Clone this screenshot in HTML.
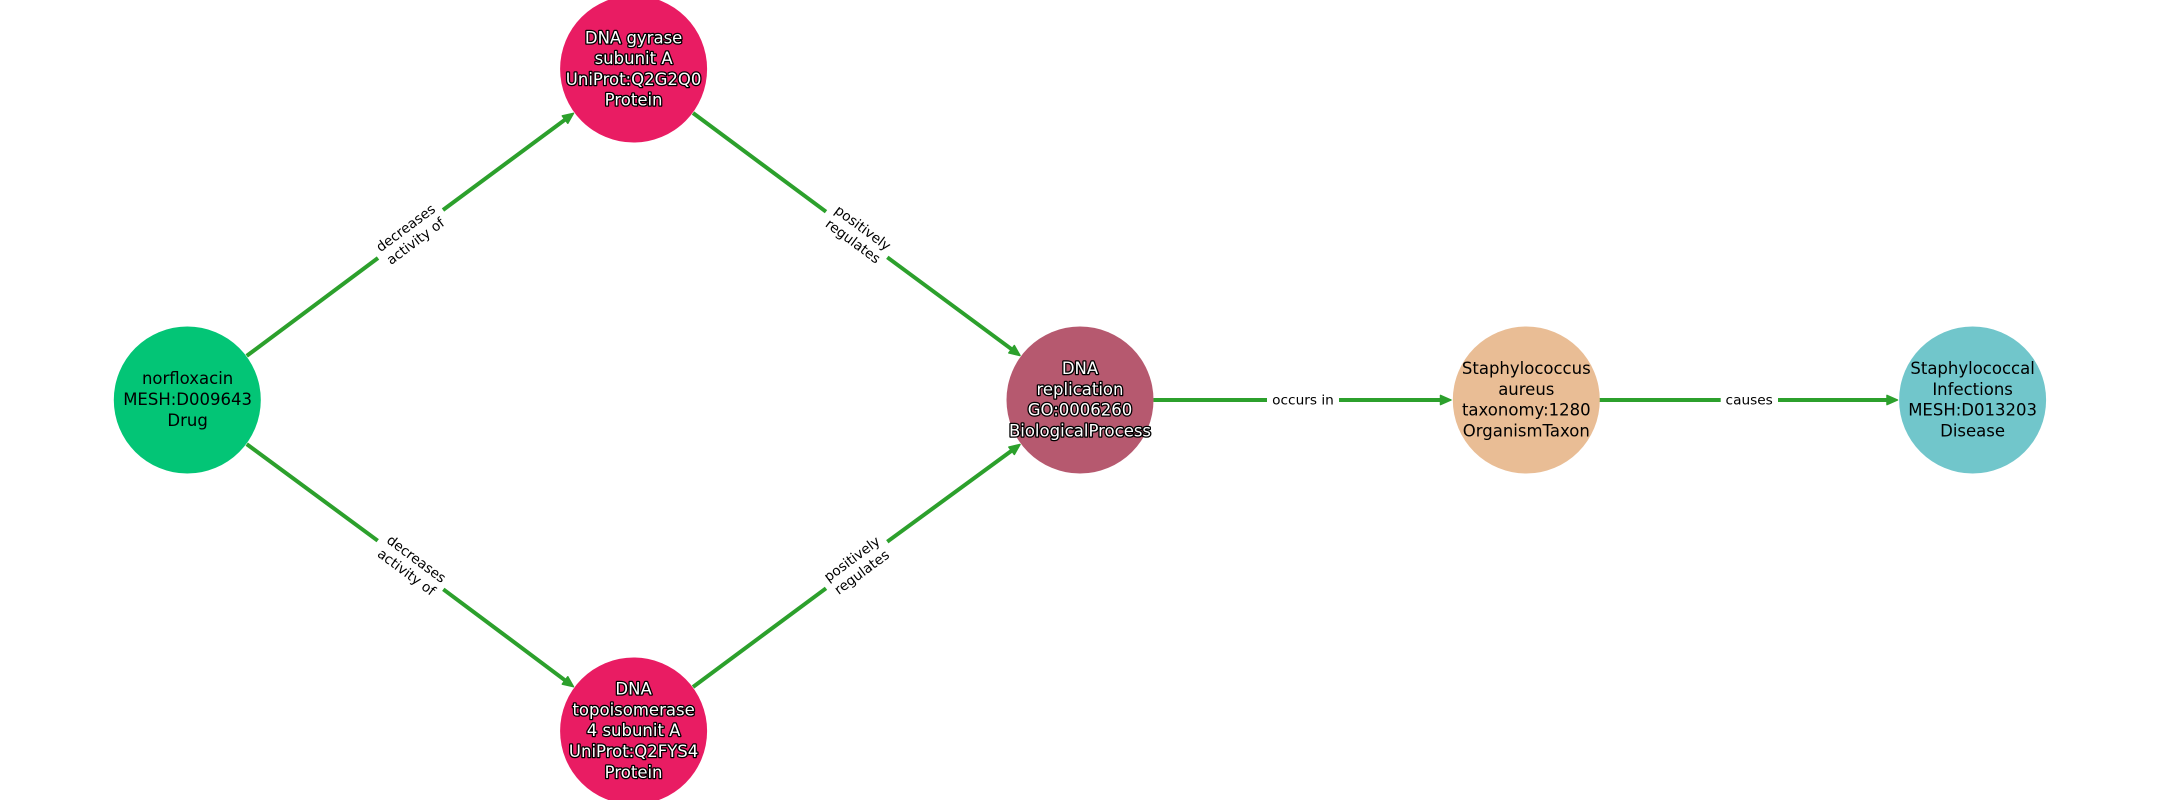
<!DOCTYPE html>
<html>
<head>
<meta charset="utf-8">
<style>
html,body{margin:0;padding:0;background:#fff;width:2160px;height:800px;overflow:hidden}
svg{display:block}
text{font-family:"DejaVu Sans","Liberation Sans",sans-serif;text-anchor:middle}
.n{font-size:16.5px;fill:#000}
.o{font-size:16.5px;fill:#fff;stroke:#000;stroke-width:2.6px;paint-order:stroke;stroke-linejoin:round}
.e{font-size:13.7px;fill:#000}
.l{stroke:#2ca02c;stroke-width:4;fill:none}
.h{fill:#2ca02c;stroke:#2ca02c;stroke-width:1.5;stroke-linejoin:round}
</style>
</head>
<body>
<svg width="2160" height="800" viewBox="0 0 2160 800" xmlns="http://www.w3.org/2000/svg">
<rect width="2160" height="800" fill="#fff"/>

<!-- Edges -->
<path class="l" d="M246.7 355.9L378 258M443 210L567 118.2"/>
<path class="l" d="M246.7 444.1L377.7 540.7M443.3 589.3L567 681.8"/>
<path class="l" d="M693 113L826 211.7M887.3 257.3L1013.6 350.7"/>
<path class="l" d="M693 687L826 588.3M887.3 541.7L1013.6 449.3"/>
<path class="l" d="M1153.5 400H1267M1339 400H1444"/>
<path class="l" d="M1599.5 400H1720.7M1778 400H1890"/>

<!-- Arrowheads -->
<polygon class="h" points="0,0 -10.5,-4.6 -10.5,4.6" transform="translate(573.5,113.3) rotate(-36.6)"/>
<polygon class="h" points="0,0 -10.5,-4.6 -10.5,4.6" transform="translate(573.5,686.7) rotate(36.6)"/>
<polygon class="h" points="0,0 -10.5,-4.6 -10.5,4.6" transform="translate(1020,355.5) rotate(36.6)"/>
<polygon class="h" points="0,0 -10.5,-4.6 -10.5,4.6" transform="translate(1020,444.5) rotate(-36.6)"/>
<polygon class="h" points="0,0 -10.5,-4.6 -10.5,4.6" transform="translate(1451,400)"/>
<polygon class="h" points="0,0 -10.5,-4.6 -10.5,4.6" transform="translate(1897.5,400)"/>

<!-- Nodes -->
<circle cx="187.3" cy="400" r="73.5" fill="#03c576"/>
<circle cx="633.6" cy="69" r="73.5" fill="#e91c63"/>
<circle cx="633.6" cy="731" r="73.5" fill="#e91c63"/>
<circle cx="1080" cy="400" r="73.5" fill="#b6596f"/>
<circle cx="1526.3" cy="400" r="73.5" fill="#e9bd95"/>
<circle cx="1972.6" cy="400" r="73.5" fill="#71c6cb"/>

<!-- Node labels -->
<text class="n" x="187.6" y="384">norfloxacin</text>
<text class="n" x="187.6" y="405">MESH:D009643</text>
<text class="n" x="187.6" y="425.9">Drug</text>

<text class="o" x="633.6" y="43.3">DNA gyrase</text>
<text class="o" x="633.6" y="64">subunit A</text>
<text class="o" x="633.6" y="84.8">UniProt:Q2G2Q0</text>
<text class="o" x="633.6" y="105.6">Protein</text>

<text class="o" x="633.6" y="694.6">DNA</text>
<text class="o" x="633.6" y="715.4">topoisomerase</text>
<text class="o" x="633.6" y="736.2">4 subunit A</text>
<text class="o" x="633.6" y="757">UniProt:Q2FYS4</text>
<text class="o" x="633.6" y="777.8">Protein</text>

<text class="o" x="1080" y="374">DNA</text>
<text class="o" x="1080" y="394.8">replication</text>
<text class="o" x="1080" y="415.6">GO:0006260</text>
<text class="o" x="1080" y="436.4">BiologicalProcess</text>

<text class="n" x="1526.3" y="374">Staphylococcus</text>
<text class="n" x="1526.3" y="394.8">aureus</text>
<text class="n" x="1526.3" y="415.6">taxonomy:1280</text>
<text class="n" x="1526.3" y="436.4">OrganismTaxon</text>

<text class="n" x="1972.6" y="374">Staphylococcal</text>
<text class="n" x="1972.6" y="394.8">Infections</text>
<text class="n" x="1972.6" y="415.6">MESH:D013203</text>
<text class="n" x="1972.6" y="436.4">Disease</text>

<!-- Edge labels -->
<g transform="translate(410.5,234.5) rotate(-36.6)">
<text class="e" x="0" y="-3.5">decreases</text>
<text class="e" x="0" y="13">activity of</text>
</g>
<g transform="translate(411.5,565.5) rotate(36.6)">
<text class="e" x="0" y="-3.5">decreases</text>
<text class="e" x="0" y="13">activity of</text>
</g>
<g transform="translate(858,234.5) rotate(36.6)">
<text class="e" x="0" y="-3.5">positively</text>
<text class="e" x="0" y="13">regulates</text>
</g>
<g transform="translate(856.8,565.5) rotate(-36.6)">
<text class="e" x="0" y="-3.5">positively</text>
<text class="e" x="0" y="13">regulates</text>
</g>
<text class="e" x="1303" y="404.4">occurs in</text>
<text class="e" x="1749.2" y="404.4">causes</text>
</svg>
</body>
</html>
